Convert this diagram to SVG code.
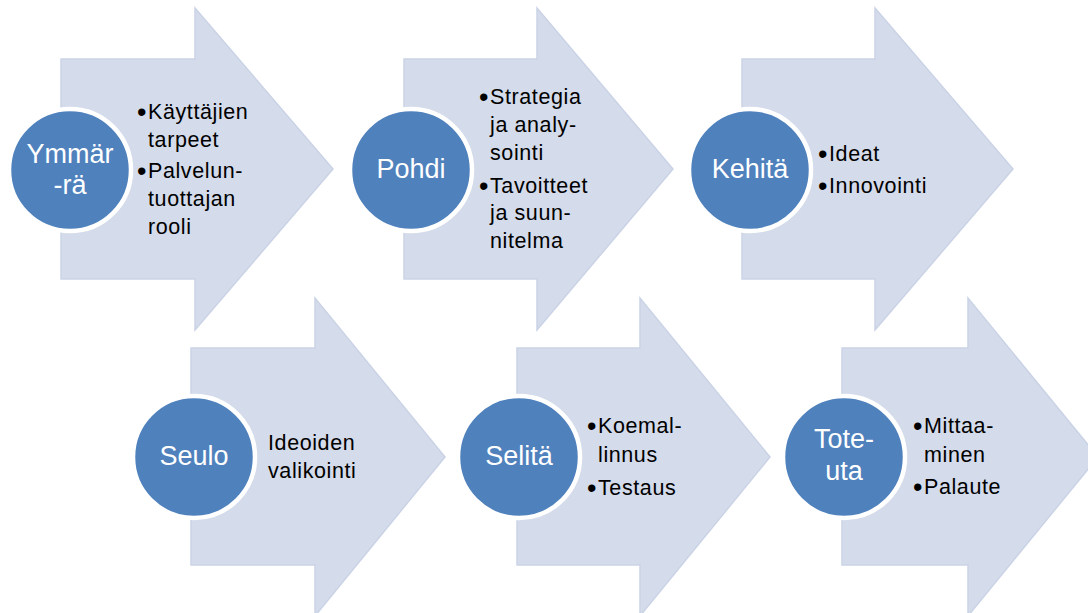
<svg xmlns="http://www.w3.org/2000/svg" width="1088" height="613" viewBox="0 0 1088 613">
<style>
.arrow{fill:#D4DBEA;stroke:#CAD3E6;stroke-width:1.5}
.circ{fill:#4F81BD;stroke:#FFFFFF;stroke-width:4.5}
.ct{font-family:"Liberation Sans",Arial,sans-serif;font-size:27px;fill:#FFFFFF;text-anchor:middle}
.bt{font-family:"Liberation Sans",Arial,sans-serif;font-size:21.5px;letter-spacing:0.6px;fill:#000000}
.b{font-size:27px;letter-spacing:0}
</style>
<rect width="1088" height="613" fill="#FFFFFF"/>
<g id="connectors"></g>
<g id="node-ymmarra">
<polygon class="arrow" points="61,59 195,59 195,8 333,169 195,330 195,279 61,279"/>
<circle class="circ" cx="70" cy="170" r="61"/>
<text class="ct"><tspan x="70" y="163">Ymmär</tspan><tspan x="70" y="194">-rä</tspan></text>
<text class="bt"><tspan class="b" x="137" y="121">•</tspan><tspan x="148" y="119">Käyttäjien</tspan><tspan x="148" y="147">tarpeet</tspan><tspan class="b" x="137" y="180">•</tspan><tspan x="148" y="178">Palvelun-</tspan><tspan x="148" y="206">tuottajan</tspan><tspan x="148" y="234">rooli</tspan></text>
</g>
<g id="node-pohdi">
<polygon class="arrow" points="404,59 537,59 537,8 673,169 537,330 537,279 404,279"/>
<circle class="circ" cx="411" cy="170" r="61"/>
<text class="ct" x="411" y="178">Pohdi</text>
<text class="bt"><tspan class="b" x="479" y="106">•</tspan><tspan x="490" y="104">Strategia</tspan><tspan x="490" y="132">ja analy-</tspan><tspan x="490" y="160">sointi</tspan><tspan class="b" x="479" y="195">•</tspan><tspan x="490" y="193">Tavoitteet</tspan><tspan x="490" y="220">ja suun-</tspan><tspan x="490" y="248">nitelma</tspan></text>
</g>
<g id="node-kehita">
<polygon class="arrow" points="742,59 875,59 875,8 1013,169 875,330 875,279 742,279"/>
<circle class="circ" cx="750" cy="170" r="61"/>
<text class="ct" x="750" y="178">Kehitä</text>
<text class="bt"><tspan class="b" x="818" y="163">•</tspan><tspan x="829" y="161">Ideat</tspan><tspan class="b" x="818" y="195">•</tspan><tspan x="829" y="193">Innovointi</tspan></text>
</g>
<g id="node-seulo">
<polygon class="arrow" points="191,348 315,348 315,298 445,457 315,616 315,565 191,565"/>
<circle class="circ" cx="194" cy="457" r="61"/>
<text class="ct" x="194" y="465">Seulo</text>
<text class="bt"><tspan x="268" y="450">Ideoiden</tspan><tspan x="268" y="478">valikointi</tspan></text>
</g>
<g id="node-selita">
<polygon class="arrow" points="517,348 640,348 640,298 770,457 640,616 640,565 517,565"/>
<circle class="circ" cx="519" cy="457" r="61"/>
<text class="ct" x="519" y="465">Selitä</text>
<text class="bt"><tspan class="b" x="587" y="435">•</tspan><tspan x="598" y="433">Koemal-</tspan><tspan x="598" y="462">linnus</tspan><tspan class="b" x="587" y="497">•</tspan><tspan x="598" y="495">Testaus</tspan></text>
</g>
<g id="node-toteuta">
<polygon class="arrow" points="842,348 968,348 968,298 1098,457 968,616 968,565 842,565"/>
<circle class="circ" cx="844" cy="457" r="61"/>
<text class="ct"><tspan x="844" y="448">Tote-</tspan><tspan x="844" y="480">uta</tspan></text>
<text class="bt"><tspan class="b" x="913" y="435">•</tspan><tspan x="924" y="433">Mittaa-</tspan><tspan x="924" y="462">minen</tspan><tspan class="b" x="913" y="496">•</tspan><tspan x="924" y="494">Palaute</tspan></text>
</g>
</svg>
